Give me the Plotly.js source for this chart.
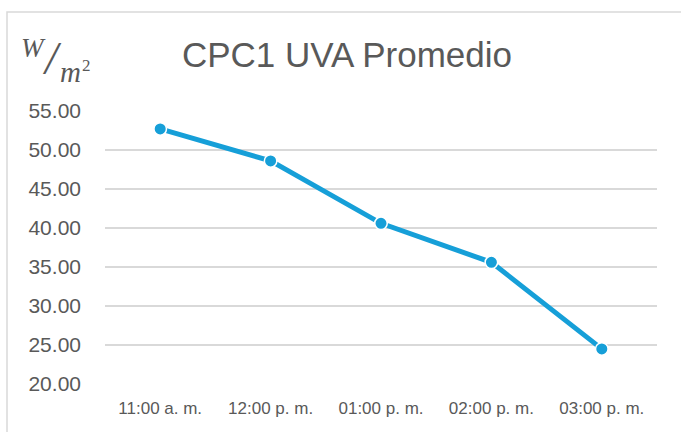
<!DOCTYPE html>
<html>
<head>
<meta charset="utf-8">
<script src="https://cdn.plot.ly/plotly-3.0.1.min.js"></script>
<style>html,body{margin:0;padding:0;background:#fff;}#chart{width:681px;height:432px;}</style>
</head>
<body>
<div id="chart"></div>
<script>
const categories = ["11:00 a. m.", "12:00 p. m.", "01:00 p. m.", "02:00 p. m.", "03:00 p. m."];
const values = [52.7, 48.6, 40.6, 35.6, 24.5];
const yTickValues = [20, 25, 30, 35, 40, 45, 50, 55];
const yTickLabels = ["20.00", "25.00", "30.00", "35.00", "40.00", "45.00", "50.00", "55.00"];
const titleText = "CPC1 UVA Promedio";

const L = 105, R = 657, T = 111, B = 384, W = 681, H = 432;
const pw = R - L, ph = B - T;
const px = x => (x - L) / pw;
const py = y => (B - y) / ph;

const trace = {
  x: categories,
  y: values,
  type: 'scatter',
  mode: 'lines+markers',
  line: {color: '#169FD8', width: 5},
  marker: {color: '#169FD8', size: 12.5, line: {color: '#ffffff', width: 1.5}},
  cliponaxis: false,
  hoverinfo: 'skip'
};

const serif = "Liberation Serif, DejaVu Serif, serif";
const layout = {
  width: W, height: H,
  margin: {l: L, r: W - R, t: T, b: H - B, pad: 0},
  paper_bgcolor: '#ffffff',
  plot_bgcolor: '#ffffff',
  showlegend: false,
  font: {family: "Liberation Sans, Arial, sans-serif", color: '#595959'},
  title: {
    text: titleText,
    font: {size: 35, color: '#595959', family: "Liberation Sans, Arial, sans-serif"},
    x: 347 / W, xanchor: 'center', xref: 'container',
    y: 1 - 55 / H, yanchor: 'middle', yref: 'container'
  },
  xaxis: {
    type: 'category',
    range: [-0.5, 4.5],
    showgrid: false,
    zeroline: false,
    showline: false,
    ticks: '',
    ticklabelstandoff: 12,
    tickfont: {size: 17, color: '#595959'},
    fixedrange: true
  },
  yaxis: {
    range: [20, 55],
    tickvals: yTickValues,
    ticktext: yTickLabels,
    showgrid: true,
    gridcolor: '#d9d9d9',
    gridwidth: 1.5,
    zeroline: false,
    showline: false,
    ticks: '',
    ticklabelstandoff: 23,
    tickfont: {size: 21, color: '#595959'},
    fixedrange: true
  },
  shapes: [
    {type: 'rect', xref: 'paper', yref: 'paper',
     x0: px(7), x1: px(690), y0: py(440), y1: py(12),
     line: {color: '#d9d9d9', width: 1.5}, fillcolor: 'rgba(0,0,0,0)', layer: 'below'}
  ],
  annotations: [
    {xref: 'paper', yref: 'paper', x: px(33), y: py(48), xanchor: 'center', yanchor: 'middle',
     text: '<i>W</i>', showarrow: false, font: {family: serif, size: 27, color: '#595959'}},
    {xref: 'paper', yref: 'paper', x: px(52), y: py(58), xanchor: 'center', yanchor: 'middle',
     text: '<i>/</i>', showarrow: false, font: {family: serif, size: 46, color: '#595959'}},
    {xref: 'paper', yref: 'paper', x: px(70), y: py(72), xanchor: 'center', yanchor: 'middle',
     text: '<i>m</i>', showarrow: false, font: {family: serif, size: 29, color: '#595959'}},
    {xref: 'paper', yref: 'paper', x: px(86), y: py(66), xanchor: 'center', yanchor: 'middle',
     text: '2', showarrow: false, font: {family: serif, size: 17, color: '#595959'}}
  ]
};

Plotly.newPlot('chart', [trace], layout, {displayModeBar: false, staticPlot: true});
</script>
</body>
</html>
